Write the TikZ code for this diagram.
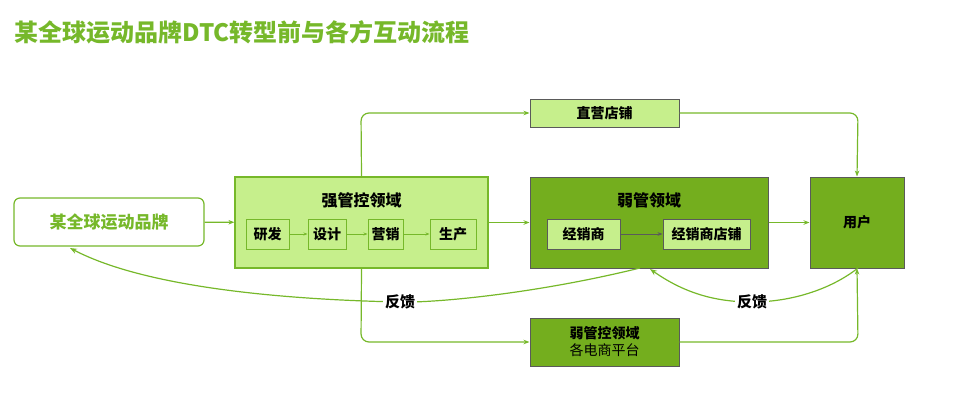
\documentclass[tikz,border=0pt]{standalone}
\usepackage{fontspec}
\setmainfont{Noto Sans CJK SC}
\usetikzlibrary{arrows.meta,positioning}
\definecolor{brandgreen}{HTML}{76B82A}
\definecolor{lightgreen}{HTML}{C6EF8C}
\definecolor{darkgreen}{HTML}{74AE1E}
\definecolor{edgegray}{HTML}{5A5A5A}
\tikzset{
  flow/.style={draw=brandgreen, line width=1.2pt, -{Stealth[length=6pt]}, rounded corners=8pt},
  box/.style={draw=edgegray, line width=1pt, minimum height=#1, inner sep=0pt, font=\bfseries\fontsize{14}{16}\selectfont},
  stage/.style={draw=brandgreen, fill=lightgreen, line width=1pt, minimum height=30pt, inner sep=0pt, font=\bfseries\fontsize{14}{16}\selectfont},
  stage arrow/.style={draw=brandgreen, line width=1pt, -{Stealth[length=4pt]}},
}
\begin{document}
\begin{tikzpicture}[x=1pt,y=-1pt]
\useasboundingbox (0,0) rectangle (960,405);
\node[anchor=west, text=brandgreen, font=\bfseries\fontsize{24}{26}\selectfont] (title) at (11,32) {某全球运动品牌DTC转型前与各方互动流程};
% main row
\node[draw=brandgreen, line width=1.2pt, rounded corners=6pt, fill=white, minimum width=190pt, minimum height=48pt, text=brandgreen, font=\bfseries\fontsize{17}{19}\selectfont] (brand) at (109,222) {某全球运动品牌};
\node[draw=brandgreen, fill=lightgreen, line width=1.2pt, minimum width=253pt, minimum height=91pt] (strong) at (361.5,222.5) {};
\node[font=\bfseries\fontsize{16}{18}\selectfont] (stronglabel) at (361.5,200) {强管控领域};
\node[stage, minimum width=43pt] (rd) at (267.5,234) {研发};
\node[stage, minimum width=38pt] (design) at (327,234) {设计};
\node[stage, minimum width=35pt] (market) at (385.5,234) {营销};
\node[stage, minimum width=46pt] (produce) at (453,234) {生产};
\draw[stage arrow] (rd) -- (design);
\draw[stage arrow] (design) -- (market);
\draw[stage arrow] (market) -- (produce);
\node[box=91pt, fill=darkgreen, minimum width=238pt] (weak) at (649,222.5) {};
\node[font=\bfseries\fontsize{16}{18}\selectfont] (weaklabel) at (649,200) {弱管领域};
\node[box=30pt, fill=lightgreen, minimum width=73pt] (dealer) at (583.5,234) {经销商};
\node[box=30pt, fill=lightgreen, minimum width=87pt] (store) at (706.5,234) {经销商店铺};
\draw[edgegray, line width=1pt, -{Stealth[length=5pt]}] (dealer) -- (store);
\node[box=91pt, fill=darkgreen, minimum width=94pt] (user) at (857,222.5) {用户};
% top and bottom channels
\node[box=28pt, fill=lightgreen, minimum width=149pt] (direct) at (604.5,113) {直营店铺};
\node[box=48pt, fill=darkgreen, minimum width=149pt, align=center] (ecom) at (604.5,342) {弱管控领域\\[1pt]{\mdseries 各电商平台}};
\draw[flow] (brand) -- (strong);
\draw[flow] (strong) -- (weak);
\draw[flow] (weak) -- (user);
\draw[flow] (strong.north) -- (361,113) -- (direct.west);
\draw[flow] (direct.east) -- (858,113) -- (user.north);
\draw[flow] (strong.south) -- (361,342) -- (ecom.west);
\draw[flow] (ecom.east) -- (858,342) -- (user.south);
% feedback
\coordinate (fbstart) at (640,268);
\coordinate (brandfb) at (70,248);
\coordinate (userfb) at (858,268);
\coordinate (weakfb) at (650,269);
\draw[brandgreen, line width=1.2pt, -{Stealth[length=7pt]}] (fbstart) .. controls (530,295) and (430,303) .. (400,302) node[fill=white, inner sep=2pt, font=\bfseries\fontsize{15}{17}\selectfont, text=black] (fb1) {反馈} .. controls (300,300) and (150,290) .. (brandfb);
\draw[brandgreen, line width=1.2pt, -{Stealth[length=7pt]}] (userfb) .. controls (830,290) and (790,302) .. (752,302) node[fill=white, inner sep=2pt, font=\bfseries\fontsize{15}{17}\selectfont, text=black] (fb2) {反馈} .. controls (710,302) and (680,290) .. (weakfb);
\end{tikzpicture}
\end{document}
